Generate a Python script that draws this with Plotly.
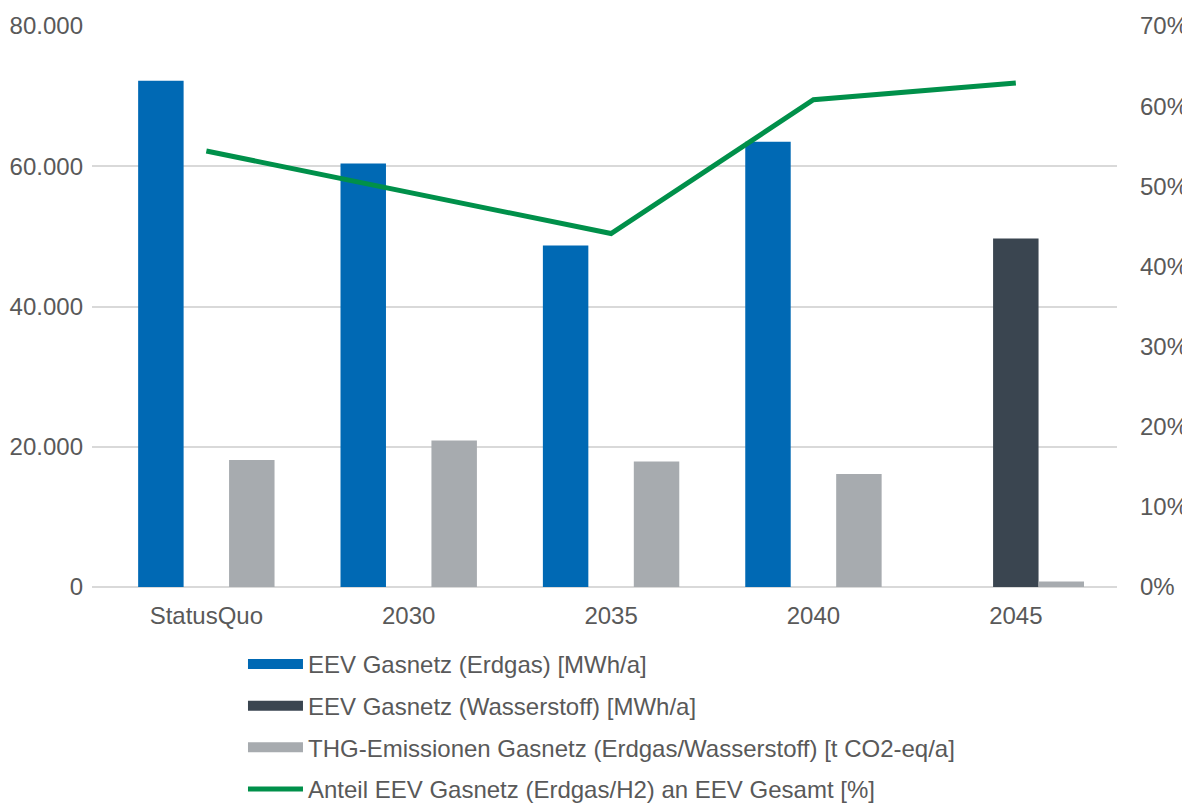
import plotly.graph_objects as go

categories = ["StatusQuo", "2030", "2035", "2040", "2045"]
eev_erdgas = [72200, 60400, 48700, 63500, None]
eev_h2 = [None, None, None, None, 49700]
thg = [18100, 20900, 17900, 16100, 800]
anteil = [54.4, 49.3, 44.1, 60.8, 62.9]

names = [
    "EEV Gasnetz (Erdgas) [MWh/a]",
    "EEV Gasnetz (Wasserstoff) [MWh/a]",
    "THG-Emissionen Gasnetz (Erdgas/Wasserstoff) [t CO2-eq/a]",
    "Anteil EEV Gasnetz (Erdgas/H2) an EEV Gesamt [%]",
]
colors = ["#0069B4", "#3A4550", "#A7ABAF", "#00904A"]

fig = go.Figure()
for vals, name, col, grp in zip([eev_erdgas, eev_h2, thg], names[:3], colors[:3], ["a", "b", "c"]):
    fig.add_trace(go.Bar(x=categories, y=vals, name=name, marker_color=col,
                         marker_line_width=0, legendgroup=grp, showlegend=False))
    # legend entry drawn as a wide, flat bar-coloured swatch
    fig.add_trace(go.Scatter(x=[None], y=[None], name=name, mode="lines",
                             line=dict(color=col, width=12), legendgroup=grp,
                             hoverinfo="skip"))
fig.add_trace(go.Scatter(x=categories, y=anteil, name=names[3], mode="lines",
                         line=dict(color=colors[3], width=5), yaxis="y2", legendgroup="d"))

FONT = "Liberation Sans, Arial, sans-serif"
tickfont = dict(family=FONT, size=24, color="#595959")
fig.update_layout(
    width=1182, height=797,
    margin=dict(l=84, r=73, t=18, b=218, autoexpand=False),
    paper_bgcolor="white", plot_bgcolor="white",
    separators=",.",
    barmode="group", bargap=0.326, bargroupgap=0,
    font=dict(family=FONT, size=24, color="#595959"),
    xaxis=dict(type="category", range=[-0.565, 4.5], showgrid=False, showline=False,
               tickfont=tickfont, ticks="", ticklabelstandoff=12, automargin=False),
    yaxis=dict(range=[0, 80000], dtick=20000, tickformat=",d", showgrid=True,
               gridcolor="#D9D9D9", gridwidth=1.5, zeroline=True, zerolinecolor="#D9D9D9",
               zerolinewidth=2, tickfont=tickfont, showline=False, ticks="",
               ticklabelstandoff=8, automargin=False),
    yaxis2=dict(range=[0, 70], dtick=10, ticksuffix="%", overlaying="y", side="right",
                showgrid=False, zeroline=False, tickfont=tickfont, showline=False,
                ticks="", ticklabelstandoff=22, automargin=False),
    legend=dict(orientation="v", x=0.1473, xanchor="left", y=-0.098, yanchor="top",
                font=dict(family=FONT, size=24, color="#595959"), tracegroupgap=7.4,
                itemwidth=55, bgcolor="rgba(0,0,0,0)"),
    showlegend=True,
)

fig.write_html("out.html")
